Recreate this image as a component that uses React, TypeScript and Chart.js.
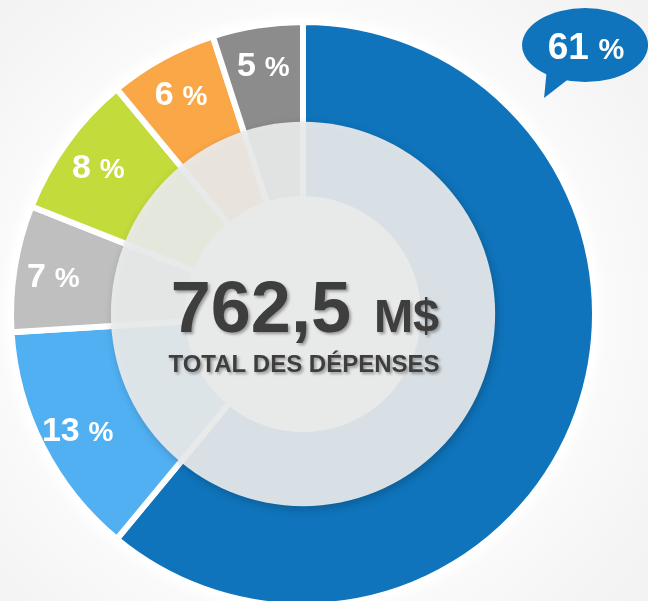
import React, { useEffect, useRef } from "react";
import { Chart, registerables } from "chart.js";

Chart.register(...registerables);

const categories = ["Poste 1", "Poste 2", "Poste 3", "Poste 4", "Poste 5", "Poste 6"];
const percentages = [61, 13, 7, 8, 6, 5];
const colors = ["#0F74BB", "#51B0F2", "#BFBFBF", "#C4DB3C", "#F9A747", "#8C8C8C"];
const totalValue = "762,5";
const totalUnit = "M$";
const totalLabel = "TOTAL DES DÉPENSES";

const FONT = '"Liberation Sans", Arial, Helvetica, sans-serif';

const overlayPlugin = {
  id: "overlayPlugin",
  afterDatasetsDraw(chart: any) {
    const ctx = chart.ctx;
    const meta = chart.getDatasetMeta(0);
    const arcs = meta.data;
    if (!arcs.length) return;
    const first: any = arcs[0];
    const cx = first.x;
    const cy = first.y;
    const R = first.outerRadius;

    // translucent central disk
    ctx.save();
    ctx.beginPath();
    ctx.arc(cx, cy, R * 0.658, 0, Math.PI * 2);
    ctx.shadowColor = "rgba(0,0,0,0.22)";
    ctx.shadowBlur = 9;
    ctx.shadowOffsetX = 2;
    ctx.shadowOffsetY = 3;
    ctx.fillStyle = "rgba(234,235,236,0.92)";
    ctx.fill();
    ctx.restore();

    // percentage labels
    const drawPct = (num: string, x: number, y: number, big: number, small: number) => {
      ctx.font = `bold ${big}px ${FONT}`;
      const w1 = ctx.measureText(num).width;
      ctx.font = `bold ${small}px ${FONT}`;
      const wSp = big * 0.26;
      const w2 = ctx.measureText("%").width;
      const total = w1 + wSp + w2;
      const left = x - total / 2;
      const base = y + big * 0.36;
      ctx.fillStyle = "#ffffff";
      ctx.textAlign = "left";
      ctx.textBaseline = "alphabetic";
      ctx.font = `bold ${big}px ${FONT}`;
      ctx.fillText(num, left, base);
      ctx.font = `bold ${small}px ${FONT}`;
      ctx.fillText("%", left + w1 + wSp, base);
    };

    ctx.save();
    for (let i = 1; i < arcs.length; i++) {
      const a: any = arcs[i];
      const mid = (a.startAngle + a.endAngle) / 2;
      const r = R * 0.866;
      const x = a.x + Math.cos(mid) * r;
      const y = a.y + Math.sin(mid) * r;
      drawPct(String(percentages[i]), x, y, 34, 28);
    }
    ctx.restore();

    // speech bubble for first value
    ctx.save();
    const bx = cx + R * 0.966;
    const by = cy - R * 0.921;
    ctx.fillStyle = colors[0];
    ctx.beginPath();
    ctx.ellipse(bx, by, 63, 37, 0, 0, Math.PI * 2);
    ctx.fill();
    ctx.beginPath();
    ctx.moveTo(bx - 38, by + 22);
    ctx.lineTo(bx - 14, by + 32);
    ctx.lineTo(bx - 41, by + 53);
    ctx.closePath();
    ctx.fill();
    drawPct(String(percentages[0]), bx + 1, by + 1, 37, 29);
    ctx.restore();

    // central text
    ctx.save();
    ctx.shadowColor = "rgba(0,0,0,0.35)";
    ctx.shadowBlur = 3;
    ctx.shadowOffsetX = 2;
    ctx.shadowOffsetY = 2;
    ctx.fillStyle = "#3E3E3E";
    ctx.textBaseline = "alphabetic";
    ctx.textAlign = "left";
    ctx.font = `bold 72px ${FONT}`;
    const w1 = ctx.measureText(totalValue).width;
    ctx.font = `bold 47px ${FONT}`;
    const w2 = ctx.measureText(totalUnit).width;
    const gap = 23;
    const left = cx + 2 - (w1 + gap + w2) / 2;
    ctx.font = `bold 72px ${FONT}`;
    ctx.fillText(totalValue, left, cy + 18);
    ctx.font = `bold 47px ${FONT}`;
    ctx.fillText(totalUnit, left + w1 + gap, cy + 18);
    ctx.font = `bold 24px ${FONT}`;
    ctx.textAlign = "center";
    ctx.fillText(totalLabel, cx + 1, cy + 58);
    ctx.restore();
  },
};

export default function App() {
  const canvasRef = useRef<HTMLCanvasElement | null>(null);

  useEffect(() => {
    const canvas = canvasRef.current;
    if (!canvas) return;
    const chart = new Chart(canvas, {
      type: "doughnut",
      data: {
        labels: categories,
        datasets: [
          {
            data: percentages,
            backgroundColor: colors,
            borderColor: "#ffffff",
            borderWidth: 6,
            hoverOffset: 0,
          },
        ],
      },
      options: {
        responsive: false,
        animation: false,
        cutout: "39.4%",
        rotation: 0,
        layout: { padding: { left: 8, right: 50, top: 19, bottom: 31 } },
        plugins: {
          legend: { display: false },
          tooltip: { enabled: false },
          title: { display: false },
        },
        events: [],
      },
      plugins: [overlayPlugin],
    });
    return () => chart.destroy();
  }, []);

  return (
    <div
      style={{
        position: "fixed",
        left: 0,
        top: 0,
        width: 648,
        height: 601,
        overflow: "hidden",
        background:
          "radial-gradient(circle at 303px 314px, #ffffff 0px, #ffffff 292px, #fafafa 304px, #f4f4f4 400px, #efefef 560px)",
      }}
    >
      <canvas ref={canvasRef} width={648} height={640} style={{ display: "block" }} />
    </div>
  );
}
